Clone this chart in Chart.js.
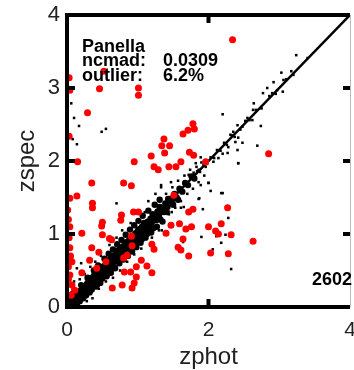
<!DOCTYPE html>
<html><head><meta charset="utf-8">
<script src="https://cdn.jsdelivr.net/npm/chart.js@4/dist/chart.umd.min.js"></script>
<style>html,body{margin:0;padding:0;background:#fff;overflow:hidden}</style>
</head><body>
<canvas id="c" width="354" height="370"></canvas>
<script>
const xTickValues = [0, 2, 4];
const yTickValues = [0, 1, 2, 3, 4];
const xTitle = 'zphot';
const yTitle = 'zspec';
const infoName = 'Panella';
const infoStats = [['ncmad:', '0.0309'], ['outlier:', '6.2%']];
const countLabel = '2602';
const diagonal = [[0, 0], [4, 4]];

const outlierPts = [
[0.03,3.14],[0.04,2.97],[0.52,3.23],[0.46,2.99],[1.01,3.00],[1.01,2.90],[0.29,2.66],[0.03,2.34],[1.37,2.30],[1.34,2.21],[1.45,2.21],[1.38,2.11],[1.19,2.07],[0.15,1.99],[0.95,1.99],[1.23,1.92],[1.29,1.88],[1.44,1.92],[1.54,1.92],[1.61,1.99],[0.35,1.70],[0.80,1.70],[0.91,1.66],[2.34,3.66],[1.64,2.37],[1.71,2.42],[1.78,2.51],[1.80,2.44],[1.73,2.12],[1.79,2.08],[1.96,1.99],[2.85,2.10],[0.04,1.49],[0.14,1.52],[0.36,1.42],[0.36,1.36],[0.94,1.30],[1.01,1.30],[0.77,1.26],[0.76,1.19],[0.50,1.16],[0.49,1.11],[0.21,1.01],[0.50,0.99],[0.63,0.92],[0.91,0.97],[0.92,0.84],[0.35,0.81],[0.45,0.75],[1.20,0.86],[1.23,0.79],[1.47,1.12],[0.32,0.64],[0.42,0.53],[0.85,0.71],[0.80,0.67],[0.55,0.62],[0.98,0.55],[1.13,0.56],[1.20,0.47],[0.81,0.48],[0.90,0.48],[0.98,0.41],[0.95,0.33],[0.92,0.26],[0.64,0.26],[0.78,0.30],[0.21,0.47],[0.04,0.81],[0.04,0.44],[0.07,0.30],[0.06,0.16],[0.07,0.62],[2.27,1.36],[1.72,1.30],[1.78,1.34],[1.59,1.14],[1.68,1.07],[1.76,1.10],[2.00,1.10],[2.18,1.14],[2.10,1.04],[2.14,1.00],[2.32,0.99],[2.63,0.90],[1.64,0.93],[1.57,0.82],[1.61,0.78],[1.72,0.70],[2.03,0.74],[2.28,0.73],[1.51,1.53],[1.40,1.01],[1.05,0.64],[0.01,1.33],[0.04,1.10],[0.60,0.94],[0.11,0.23],[0.02,0.55],[0.03,0.95],[0.02,1.20],[0.05,0.70],[0.02,0.38]
];

const bandPts = [
[0.02,0.04],[0.04,0.01],[0.05,0.08],[0.07,0.05],[0.09,0.12],[0.10,0.07],[0.12,0.10],[0.13,0.16],[0.15,0.12],[0.16,0.19],[0.18,0.15],[0.19,0.22],[0.21,0.17],[0.22,0.25],[0.24,0.21],[0.25,0.28],[0.27,0.23],[0.28,0.31],[0.30,0.26],[0.31,0.34],[0.33,0.29],[0.34,0.38],[0.36,0.32],[0.37,0.41],[0.39,0.35],[0.40,0.44],[0.42,0.38],[0.43,0.47],[0.45,0.41],[0.46,0.50],[0.48,0.44],[0.49,0.53],[0.51,0.47],[0.52,0.56],[0.54,0.50],[0.55,0.59],[0.57,0.53],[0.58,0.62],[0.60,0.56],[0.61,0.65],[0.63,0.59],[0.64,0.68],[0.66,0.62],[0.67,0.71],[0.69,0.65],[0.70,0.74],[0.72,0.68],[0.73,0.77],[0.75,0.71],[0.76,0.80],[0.78,0.74],[0.79,0.83],[0.81,0.77],[0.82,0.86],[0.84,0.80],[0.85,0.89],[0.87,0.83],[0.88,0.92],[0.90,0.86],[0.91,0.95],[0.93,0.89],[0.94,0.98],[0.96,0.92],[0.97,1.01],[0.99,0.95],[1.00,1.04],[1.02,0.98],[1.03,1.07],[1.05,1.01],[1.06,1.10],[1.08,1.04],[1.10,1.13],[1.12,1.08],[1.14,1.17],[1.16,1.12],[1.18,1.21],[1.20,1.16],[1.23,1.26],[1.25,1.20],[1.28,1.31],[1.30,1.26],[1.33,1.36],[1.36,1.32],[1.39,1.42],[1.42,1.37],[1.45,1.48],[1.48,1.44],[1.52,1.55],[1.55,1.50],[1.59,1.62],[1.63,1.58],[1.67,1.70],[1.71,1.67],[1.76,1.79],[1.80,1.76],
[0.08,0.18],[0.14,0.03],[0.20,0.30],[0.23,0.12],[0.29,0.40],[0.32,0.20],[0.38,0.50],[0.41,0.28],[0.44,0.57],[0.47,0.33],[0.53,0.66],[0.56,0.42],[0.59,0.73],[0.62,0.47],[0.65,0.79],[0.68,0.53],[0.71,0.86],[0.74,0.60],[0.77,0.92],[0.80,0.65],[0.83,0.99],[0.86,0.70],[0.89,1.06],[0.92,0.76],[0.95,1.12],[0.98,0.82],[1.01,1.18],[1.04,0.88],[1.07,1.25],[1.11,0.95],[1.15,1.32],[1.19,1.02],[1.24,1.40],[1.27,1.10],[1.31,1.47],[1.35,1.17],
[0.06,0.03],[0.11,0.14],[0.17,0.11],[0.20,0.23],[0.26,0.20],[0.29,0.33],[0.35,0.28],[0.38,0.43],[0.44,0.38],[0.47,0.52],[0.53,0.46],[0.56,0.61],[0.62,0.55],[0.65,0.70],[0.71,0.64],[0.74,0.79],[0.80,0.73],[0.83,0.88],[0.89,0.82],[0.92,0.97],[0.98,0.90],[1.01,1.06],[1.07,0.99],[1.09,1.15],[1.15,1.08],[1.21,1.27],[1.26,1.19],[1.31,1.37],[1.37,1.30],[1.43,1.48],
[0.10,0.02],[0.18,0.08],[0.27,0.16],[0.35,0.24],[0.43,0.31],[0.50,0.39],[0.58,0.46],[0.66,0.55],[0.73,0.62],[0.82,0.70],[0.90,0.78],[0.97,0.85],[1.06,0.93],[1.13,1.00],[1.22,1.08],[1.32,1.20],[1.41,1.30],[1.50,1.40],[1.57,1.47]
];

const scatterPts = [
[1.40,1.55],[1.44,1.27],[1.49,1.64],[1.53,1.36],[1.57,1.73],[1.61,1.45],[1.66,1.80],[1.70,1.55],[1.74,1.88],[1.78,1.62],[1.83,1.92],[1.86,1.71],[1.90,1.98],[1.94,1.80],
[1.84,1.86],[1.88,1.85],[1.93,1.95],[1.98,1.96],[2.03,2.05],[2.08,2.04],[2.12,2.15],[2.17,2.14],[2.22,2.25],[2.26,2.22],[2.33,2.35],[2.37,2.33],[2.45,2.43],[2.52,2.55],[2.58,2.56],[2.67,2.70],[2.75,2.72],[2.86,2.89],[2.95,2.92],[3.10,3.12],[3.20,3.18],
[3.24,3.45],[3.40,3.41],[3.03,3.21],[3.17,3.23],[3.06,3.11],[2.92,3.08],[2.97,2.97],[2.83,3.00],[2.90,2.93],[3.05,2.95],[2.77,2.93],[2.64,2.79],[2.63,2.70],[2.20,2.64],[2.55,2.59],[2.62,2.56],[2.74,2.48],[2.41,2.49],[2.48,2.47],[2.35,2.40],[2.31,2.36],[2.42,2.32],[2.38,2.26],[2.48,2.25],[2.69,2.21],[2.28,2.19],[2.41,2.15],[2.27,2.11],[2.20,2.10],[2.14,2.04],[2.06,2.05],[2.42,1.97],[2.07,1.99],[1.96,1.92],[1.86,1.88],[1.79,1.84],[1.72,1.81],[2.00,1.70],[1.82,1.97],[1.89,2.05],
[0.06,2.79],[0.10,2.59],[0.17,2.48],[0.08,2.30],[0.14,2.23],[0.49,2.40],[0.55,2.44],
[2.42,1.97],[1.89,1.67],[2.00,1.70],[2.03,1.59],[2.18,1.56],[1.87,1.49],[1.92,1.34],[2.28,1.22],[1.65,1.37],[1.61,1.36],[1.51,1.47],[1.48,1.30],[1.47,1.71],[1.33,1.64],[1.90,0.96],[1.34,1.05],
[2.11,0.97],[2.24,0.99],[2.18,0.88],[1.64,0.89],[2.06,0.79],[2.32,0.52],[2.20,1.56],[1.86,1.48],
[0.70,1.42],[1.33,1.67],[0.14,0.53],[0.20,0.60],[0.29,0.41],[0.36,0.12],[0.22,0.11],[0.05,0.30],[0.10,0.35],[0.25,0.45],[0.45,0.25],[0.55,0.35],[0.60,0.85],[0.48,0.70],[0.70,0.95],[0.85,0.62],[0.95,0.72],[1.05,0.80],[1.10,1.30],[0.90,1.15],[0.78,1.05],[1.20,0.95],[1.30,1.05],[1.25,1.55],[1.15,1.45],[0.33,0.55],[0.40,0.62],[0.65,0.40],[0.75,0.50],[0.18,0.38],[0.28,0.08],[0.08,0.25],[0.12,0.02]
];

const toXY = a => a.map(p => ({x: p[0], y: p[1]}));

const framePlugin = {
  id: 'frame',
  afterDraw(chart) {
    const {ctx, chartArea: ca, scales: {x, y}} = chart;
    ctx.save();
    ctx.strokeStyle = '#000';
    ctx.lineCap = 'butt';
    ctx.lineWidth = 4;
    ctx.beginPath();
    ctx.moveTo(ca.left, ca.top); ctx.lineTo(ca.right, ca.top);
    ctx.moveTo(ca.left, ca.top - 2); ctx.lineTo(ca.left, ca.bottom + 2);
    ctx.moveTo(ca.left - 2, ca.bottom); ctx.lineTo(ca.right, ca.bottom);
    ctx.stroke();
    ctx.lineWidth = 1;
    ctx.strokeStyle = '#bbb';
    ctx.beginPath(); ctx.moveTo(ca.right + 0.5, ca.top); ctx.lineTo(ca.right + 0.5, ca.bottom); ctx.stroke();
    ctx.strokeStyle = '#000';
    ctx.lineWidth = 4;
    ctx.beginPath();
    yTickValues.forEach(v => {
      if (v <= 0 || v >= 4) return;
      const py = y.getPixelForValue(v);
      ctx.moveTo(ca.left, py); ctx.lineTo(ca.left + 8, py);
      ctx.moveTo(ca.right, py); ctx.lineTo(ca.right - 7, py);
    });
    xTickValues.forEach(v => {
      if (v <= 0 || v >= 4) return;
      const px = x.getPixelForValue(v);
      ctx.moveTo(px, ca.bottom); ctx.lineTo(px, ca.bottom - 8);
      ctx.moveTo(px, ca.top); ctx.lineTo(px, ca.top + 8);
    });
    ctx.stroke();
    ctx.fillStyle = '#000';
    ctx.font = 'bold 18px "Liberation Sans", Arial, sans-serif';
    ctx.textBaseline = 'alphabetic';
    ctx.textAlign = 'left';
    ctx.fillText(infoName, ca.left + 15, ca.top + 37);
    infoStats.forEach((r, i) => {
      const by = ca.top + 51 + i * 15;
      ctx.fillText(r[0], ca.left + 15, by);
      ctx.fillText(r[1], ca.left + 96, by);
    });
    ctx.fillText(countLabel, ca.left + 245, ca.bottom - 22);
    ctx.restore();
  }
};

const fixLayout = (w, h) => (scale) => {
  if (w !== null) scale.width = w;
  if (h !== null) scale.height = h;
  scale.paddingLeft = 0; scale.paddingRight = 0;
  scale.paddingTop = 0; scale.paddingBottom = 0;
};

new Chart(document.getElementById('c'), {
  type: 'scatter',
  data: {
    datasets: [
      {data: toXY(outlierPts), backgroundColor: '#ff0000', borderWidth: 0, pointRadius: 3.5, pointStyle: 'circle'},
      {type: 'line', data: toXY(diagonal), borderColor: '#000', borderWidth: 2.5, pointRadius: 0, fill: false},
      {data: toXY(bandPts), backgroundColor: '#000', borderWidth: 0, pointRadius: 3.2, pointStyle: 'circle'},
      {data: toXY(scatterPts), backgroundColor: '#000', borderWidth: 0, pointRadius: 1.8, pointStyle: 'rect'}
    ]
  },
  options: {
    responsive: false,
    animation: false,
    events: [],
    layout: {padding: {top: 15, right: 1, left: 0, bottom: 0}},
    plugins: {legend: {display: false}, tooltip: {enabled: false}},
    scales: {
      x: {
        type: 'linear', min: 0, max: 4,
        afterBuildTicks: s => { s.ticks = xTickValues.map(v => ({value: v})); },
        afterFit: fixLayout(null, 63),
        grid: {display: false, drawTicks: false},
        border: {display: false},
        ticks: {font: {size: 21, family: '"Liberation Sans", Arial, sans-serif'}, color: '#222', padding: 11, maxRotation: 0, autoSkip: false},
        title: {display: true, text: xTitle, color: '#222', font: {size: 24, family: '"Liberation Sans", Arial, sans-serif'}, padding: {top: 0, bottom: -2}}
      },
      y: {
        type: 'linear', min: 0, max: 4,
        afterBuildTicks: s => { s.ticks = yTickValues.map(v => ({value: v})); },
        afterFit: fixLayout(67, null),
        grid: {display: false, drawTicks: false},
        border: {display: false},
        ticks: {font: {size: 22, family: '"Liberation Sans", Arial, sans-serif'}, color: '#222', padding: 7, autoSkip: false},
        title: {display: true, text: yTitle, color: '#222', font: {size: 24, family: '"Liberation Sans", Arial, sans-serif'}, padding: {top: 13, bottom: 0}}
      }
    }
  },
  plugins: [framePlugin]
});
</script>
</body></html>
